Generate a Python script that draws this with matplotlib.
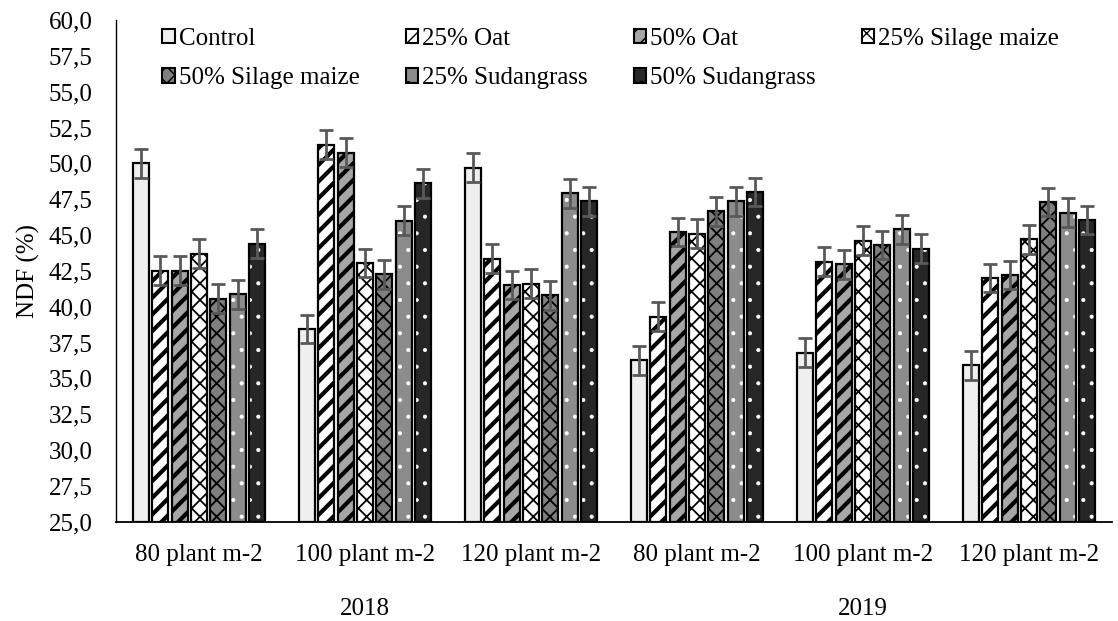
import numpy as np
import matplotlib.pyplot as plt
from matplotlib.patches import Patch

# ---------------------------------------------------------
# DATA (NDF %)
# ---------------------------------------------------------
groups = ["80 plant m-2", "100 plant m-2", "120 plant m-2",
          "80 plant m-2", "100 plant m-2", "120 plant m-2"]
years = ["2018", "2019"]
treatments = ["Control", "25% Oat", "50% Oat", "25% Silage maize",
              "50% Silage maize", "25% Sudangrass", "50% Sudangrass"]

control = [50.0, 38.45, 49.7, 36.25, 36.8, 35.9]
oat25 = [42.5, 51.3, 43.35, 39.3, 43.15, 42.0]
oat50 = [42.5, 50.75, 41.5, 45.2, 42.95, 42.2]
silage25 = [43.7, 43.05, 41.6, 45.1, 44.6, 44.7]
silage50 = [40.55, 42.25, 40.8, 46.65, 44.3, 47.3]
sudan25 = [40.85, 46.0, 47.9, 47.35, 45.4, 46.55]
sudan50 = [44.4, 48.6, 47.35, 48.0, 44.05, 46.05]
err = [1.0, 1.0, 1.0, 1.0, 1.0, 1.0]

values = [control, oat25, oat50, silage25, silage50, sudan25, sudan50]

# fill colour, hatch, hatch colour
styles = [
    ("#efefef", "", "#efefef"),
    ("white", "//", "black"),
    ("#a6a6a6", "//", "black"),
    ("white", "xx", "black"),
    ("#7f7f7f", "xx", "black"),
    ("#8c8c8c", ".", "white"),
    ("#262626", ".", "white"),
]

plt.rcParams["font.family"] = ["Liberation Serif", "DejaVu Serif"]
plt.rcParams["font.size"] = 18

# ---------------------------------------------------------
# PLOT
# ---------------------------------------------------------
fig = plt.figure(figsize=(11.18, 6.21), dpi=100)
ax = fig.add_axes([0.1038, 0.160, 0.8908, 0.8078])

x = np.arange(len(groups))
step = 0.117
width = 0.096

hatch_lw = {"//": 3.0, "xx": 1.3, ".": 0.5, "": 1.0}
for j, (vals, (fc, hatch, hc)) in enumerate(zip(values, styles)):
    pos = x + (j - 3) * step
    with plt.rc_context({"hatch.linewidth": hatch_lw[hatch]}):
        ax.bar(pos, np.array(vals) - 25, width, bottom=25, color=fc,
               hatch=hatch, edgecolor=hc, linewidth=0, zorder=2)
    ax.bar(pos, np.array(vals) - 25, width, bottom=25, facecolor="none",
           edgecolor="black", linewidth=1.6, zorder=3)
    ax.errorbar(pos, vals, yerr=err, fmt="none", ecolor="#595959",
                elinewidth=2, capsize=5, capthick=2, zorder=4)

ax.set_ylim(25, 60)
ax.set_xlim(-0.5, 5.5)
ax.set_yticks(np.arange(25, 60.1, 2.5))
ax.set_yticklabels([f"{v:.1f}".replace(".", ",") for v in np.arange(25, 60.1, 2.5)])
ax.set_xticks(x)
ax.set_xticklabels(groups)
ax.tick_params(axis="both", length=0)
ax.tick_params(axis="y", pad=17)
ax.tick_params(axis="x", pad=16)
ax.set_ylabel("NDF (%)", labelpad=6)

for s in ["top", "right"]:
    ax.spines[s].set_visible(False)
ax.spines["left"].set_linewidth(1.0)
ax.spines["bottom"].set_linewidth(1.3)

# year labels under the group labels
trans = ax.get_xaxis_transform()
ax.text(1, -0.175, years[0], transform=trans, ha="center", va="center")
ax.text(4, -0.175, years[1], transform=trans, ha="center", va="center")

# legend, row-major order in 4 columns
handles = []
for name, (fc, hatch, hc) in zip(treatments, styles):
    handles.append(Patch(facecolor=fc, edgecolor="black", hatch=hatch,
                         linewidth=1.5, label=name))
order = [0, 4, 1, 5, 2, 6, 3]
ax.legend([handles[i] for i in order], [treatments[i] for i in order],
          ncol=4, loc="upper left", bbox_to_anchor=(0.134, 0.975),
          bbox_transform=fig.transFigure, frameon=False,
          handlelength=0.5, handleheight=0.5, handletextpad=0.15,
          columnspacing=1.85, labelspacing=0.69, borderpad=0)

plt.savefig("out.png", dpi=100)
